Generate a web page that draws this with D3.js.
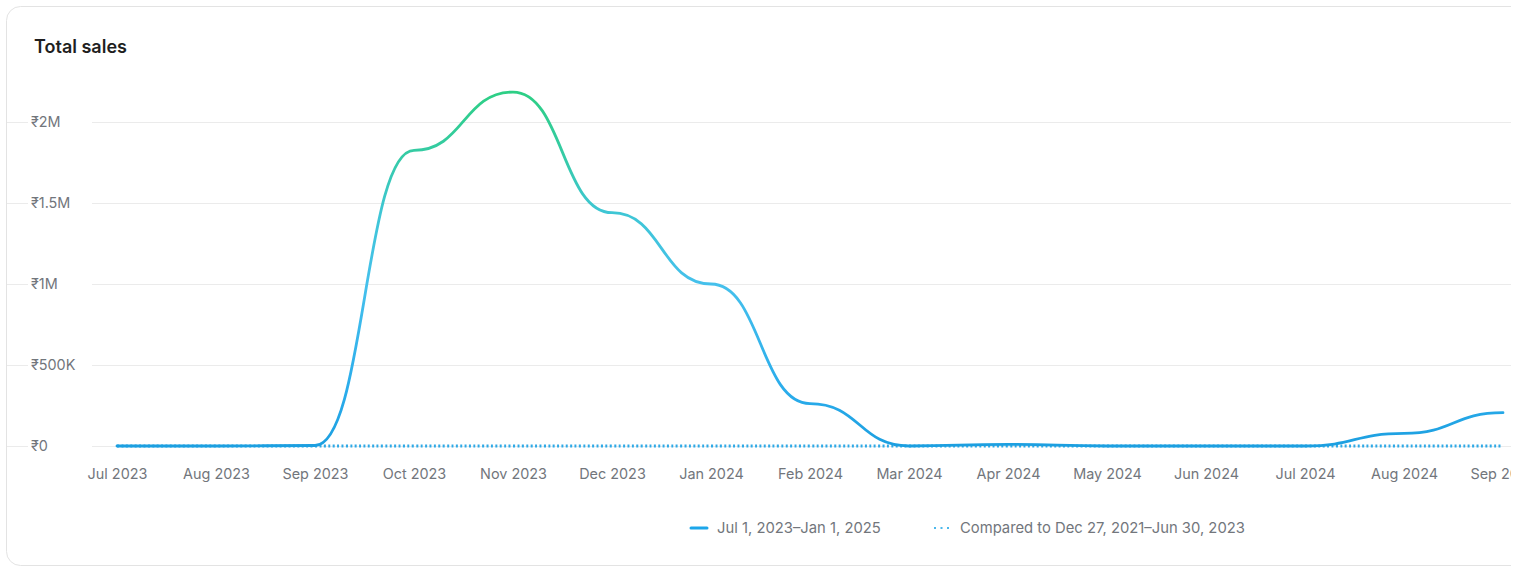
<!DOCTYPE html>
<html>
<head>
<meta charset="utf-8">
<script src="https://cdn.jsdelivr.net/npm/d3@7"></script>
<style>
  html, body { margin: 0; padding: 0; background: #fff; }
  svg { display: block; font-family: Inter, "Noto Sans", sans-serif; }
</style>
</head>
<body>
<svg id="chart" width="1523" height="569"></svg>
<script>
let months = ['Jul 2023', 'Aug 2023', 'Sep 2023', 'Oct 2023', 'Nov 2023', 'Dec 2023', 'Jan 2024',
  'Feb 2024', 'Mar 2024', 'Apr 2024', 'May 2024', 'Jun 2024', 'Jul 2024', 'Aug 2024', 'Sep 2024'];
let sales = [0, 0, 3000, 1825000, 2185000, 1440000, 1000000, 262000, 0, 10000, 0, 0, 0, 78000, 206000];
let comparison = [0, 0, 0, 0, 0, 0, 0, 0, 0, 0, 0, 0, 0, 0, 0];
let yTicks = [0, 500000, 1000000, 1500000, 2000000];
let yTickLabels = ['₹0', '₹500K', '₹1M', '₹1.5M', '₹2M'];
let legendLabels = ['Jul 1, 2023–Jan 1, 2025', 'Compared to Dec 27, 2021–Jun 30, 2023'];

let svg = d3.select('#chart');
let clipRight = 1511;

let defs = svg.append('defs');
defs.append('clipPath').attr('id', 'cardClip')
  .append('rect').attr('x', 0).attr('y', 0).attr('width', clipRight).attr('height', 569);

let x = d3.scalePoint().domain(months).range([117, 117 + 99 * (months.length - 1)]);
let y = d3.scaleLinear().domain([0, 2000000]).range([446, 122]);

let grad = defs.append('linearGradient').attr('id', 'salesGrad')
  .attr('gradientUnits', 'userSpaceOnUse')
  .attr('x1', 0).attr('x2', 0).attr('y1', y(0)).attr('y2', y(2200000));
[[0, '#1c9fe0'], [0.15, '#2aaceb'], [0.45, '#45c0ec'], [0.65, '#3fc6d6'], [0.82, '#35cba4'], [1, '#2dcf84']]
  .forEach(function(s) { grad.append('stop').attr('offset', s[0]).attr('stop-color', s[1]); });

let g = svg.append('g').attr('clip-path', 'url(#cardClip)');

// card
g.append('rect')
  .attr('x', 6.5).attr('y', 6.5).attr('width', 1540).attr('height', 559)
  .attr('rx', 14).attr('fill', '#fff').attr('stroke', '#e3e3e3');

g.append('text')
  .attr('x', 34).attr('y', 53)
  .attr('font-size', 18).attr('font-weight', 600).attr('fill', '#1f1f1f')
  .text('Total sales');

// grid lines
g.append('g').selectAll('line')
  .data(yTicks)
  .join('line')
  .attr('x1', 7).attr('x2', clipRight)
  .attr('y1', function(d) { return y(d) + 0.5; })
  .attr('y2', function(d) { return y(d) + 0.5; })
  .attr('stroke', '#ebebeb');

// y labels with white backing
let yAxis = g.append('g').attr('transform', 'translate(28,0)')
  .call(d3.axisRight(y).tickValues(yTicks).tickSize(0).tickPadding(3)
    .tickFormat(function(d, i) { return yTickLabels[i]; }));
yAxis.select('.domain').remove();
yAxis.selectAll('.tick').insert('rect', 'text')
  .attr('x', 0).attr('y', -8).attr('width', 64).attr('height', 16).attr('fill', '#fff');
yAxis.selectAll('text')
  .attr('font-family', 'Inter, sans-serif').attr('font-size', 14.4).attr('fill', '#72767c');

// x labels
let xAxis = g.append('g').attr('transform', 'translate(0,446)')
  .call(d3.axisBottom(x).tickSize(0).tickPadding(23));
xAxis.select('.domain').remove();
xAxis.selectAll('text')
  .attr('font-family', 'Inter, sans-serif').attr('font-size', 14.4).attr('fill', '#72767c');

let line = d3.line()
  .x(function(d) { return x(d.m); })
  .y(function(d) { return y(d.v); })
  .curve(d3.curveBumpX);

g.append('path')
  .datum(months.map(function(m, i) { return { m: m, v: comparison[i] }; }))
  .attr('d', line)
  .attr('fill', 'none').attr('stroke', '#2fa9e6').attr('stroke-width', 2.8)
  .attr('stroke-dasharray', '2 2.4');

g.append('path')
  .datum(months.map(function(m, i) { return { m: m, v: sales[i] }; }))
  .attr('d', line)
  .attr('fill', 'none').attr('stroke', 'url(#salesGrad)').attr('stroke-width', 2.8)
  .attr('stroke-linecap', 'round');

// legend
let legend = g.append('g').attr('transform', 'translate(0,528)');
legend.append('line')
  .attr('x1', 691).attr('x2', 707).attr('y1', 0).attr('y2', 0)
  .attr('stroke', '#1ca6ea').attr('stroke-width', 3).attr('stroke-linecap', 'round');
legend.append('line')
  .attr('x1', 934).attr('x2', 950).attr('y1', 0).attr('y2', 0)
  .attr('stroke', '#4bb8ec').attr('stroke-width', 2.2).attr('stroke-dasharray', '2 4.5');
legend.selectAll('text.lbl')
  .data(legendLabels)
  .join('text')
  .attr('class', 'lbl')
  .attr('x', function(d, i) { return i === 0 ? 717 : 960; })
  .attr('y', 0).attr('dy', '0.35em')
  .attr('font-size', 14.8).attr('fill', '#72767c')
  .text(function(d) { return d; });
</script>
</body>
</html>
